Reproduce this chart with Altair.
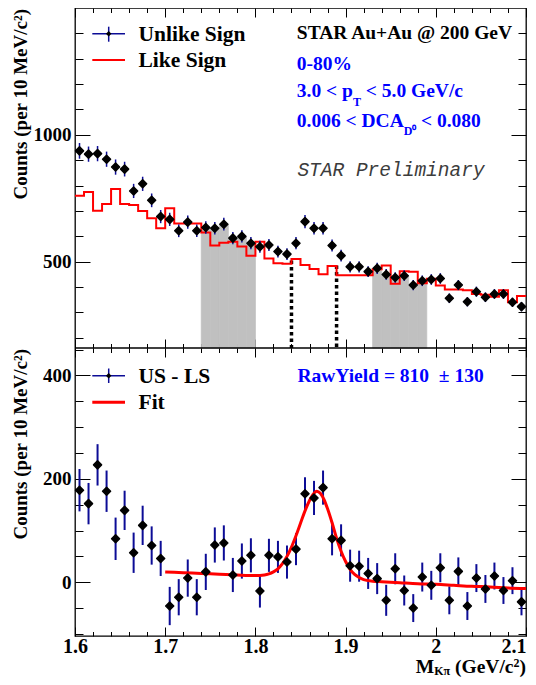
import altair as alt
import pandas as pd

# ---------------- data ----------------
mass = [1.605, 1.615, 1.625, 1.635, 1.645, 1.655, 1.665, 1.675, 1.685, 1.695,
        1.705, 1.715, 1.725, 1.735, 1.745, 1.755, 1.765, 1.775, 1.785, 1.795,
        1.805, 1.815, 1.825, 1.835, 1.845, 1.855, 1.865, 1.875, 1.885, 1.895,
        1.905, 1.915, 1.925, 1.935, 1.945, 1.955, 1.965, 1.975, 1.985, 1.995,
        2.005, 2.015, 2.025, 2.035, 2.045, 2.055, 2.065, 2.075, 2.085, 2.095]
edges = [1.60, 1.61, 1.62, 1.63, 1.64, 1.65, 1.66, 1.67, 1.68, 1.69,
         1.70, 1.71, 1.72, 1.73, 1.74, 1.75, 1.76, 1.77, 1.78, 1.79,
         1.80, 1.81, 1.82, 1.83, 1.84, 1.85, 1.86, 1.87, 1.88, 1.89,
         1.90, 1.91, 1.92, 1.93, 1.94, 1.95, 1.96, 1.97, 1.98, 1.99,
         2.00, 2.01, 2.02, 2.03, 2.04, 2.05, 2.06, 2.07, 2.08, 2.09, 2.10]
us_counts = [937, 924, 926, 904, 873, 865, 779, 807, 742, 678,
             667, 622, 656, 622, 635, 632, 648, 593, 600, 573,
             559, 566, 540, 530, 573, 658, 632, 632, 564, 524,
             480, 480, 461, 474, 450, 438, 445, 408, 425, 430,
             434, 356, 408, 342, 382, 360, 373, 373, 340, 323]
us_err = [31, 30, 30, 30, 30, 29, 28, 28, 27, 26,
          26, 25, 26, 25, 25, 25, 25, 24, 24, 24,
          24, 24, 23, 23, 24, 26, 25, 25, 24, 23,
          22, 22, 21, 22, 21, 21, 21, 20, 21, 21,
          21, 19, 20, 18, 20, 19, 19, 19, 18, 18]
ls_counts = [760, 775, 701, 728, 787, 728, 724, 700, 671, 632,
             711, 651, 651, 651, 615, 564, 575, 579, 560, 524,
             579, 513, 494, 492, 511, 487, 471, 451, 483, 447,
             447, 447, 447, 470, 485, 413, 462, 461, 415, 433,
             406, 391, 391, 388, 373, 370, 362, 388, 340, 365]
diff_counts = [178, 152, 227, 176, 84, 139, 57, 110, 71, 46,
               -46, -29, 8, -29, 20, 72, 76, 14, 41, 52,
               -17, 52, 49, 39, 64, 171, 163, 183, 84, 81,
               32, 31, 17, 7, -35, 26, -16, -50, 10, -6,
               28, -35, 21, -46, 8, -13, 12, -16, 3, -38]
diff_err = [41, 40, 40, 40, 41, 38, 39, 38, 37, 34,
            37, 35, 36, 35, 35, 34, 34, 33, 34, 33,
            32, 32, 31, 32, 31, 32, 33, 33, 32, 31,
            31, 30, 30, 30, 30, 30, 29, 27, 28, 28,
            28, 27, 27, 27, 27, 27, 26, 26, 26, 26]
fit_mass = [1.700, 1.720, 1.740, 1.760, 1.780, 1.800, 1.810, 1.815, 1.820, 1.825,
            1.830, 1.835, 1.840, 1.845, 1.850, 1.855, 1.860, 1.865, 1.868, 1.872,
            1.876, 1.880, 1.885, 1.890, 1.895, 1.900, 1.905, 1.910, 1.915, 1.920,
            1.930, 1.940, 1.960, 1.980, 2.000, 2.020, 2.040, 2.060, 2.080, 2.100]
fit_counts = [20, 18.5, 17, 15.5, 14, 13, 14, 16, 20, 26,
              36, 50, 68, 90, 114, 138, 158, 172, 176, 172,
              160, 142, 115, 85, 60, 40, 25, 15, 9, 5,
              2, 1, -1, -3, -4, -6, -8, -9, -11, -12]
sidebands = [(1.74, 1.80), (1.93, 1.99)]
signal_edges = [1.84, 1.89]
signal_tops = [505, 485]

x_major = [1.6, 1.7, 1.8, 1.9, 2.0, 2.1]
x_minor = [1.62, 1.64, 1.66, 1.68, 1.72, 1.74, 1.76, 1.78, 1.82, 1.84, 1.86, 1.88,
           1.92, 1.94, 1.96, 1.98, 2.02, 2.04, 2.06, 2.08]
yt_major = [500, 1000]
yt_minor = [200, 300, 400, 600, 700, 800, 900, 1100, 1200, 1300, 1400]
yb_major = [0, 200, 400]
yb_minor = [-100, -50, 50, 100, 150, 250, 300, 350, 450]

# ---------------- tables ----------------
df = pd.DataFrame({
    "m": mass, "lo": edges[:-1], "hi": edges[1:],
    "us": us_counts, "ls": ls_counts,
    "d": diff_counts,
})
df["us_lo"] = df["us"] - pd.Series(us_err)
df["us_hi"] = df["us"] + pd.Series(us_err)
df["d_lo"] = df["d"] - pd.Series(diff_err)
df["d_hi"] = df["d"] + pd.Series(diff_err)
in_sb = pd.Series(False, index=df.index)
for a, b in sidebands:
    in_sb |= (df["lo"] >= a - 1e-9) & (df["hi"] <= b + 1e-9)
df_sb = df[in_sb]
df_step = pd.DataFrame({"e": edges, "ls": ls_counts + [ls_counts[-1]]})
df_sig = pd.DataFrame({"m": signal_edges, "top": signal_tops})
df_fit = pd.DataFrame({"m": fit_mass, "f": fit_counts})

SERIF = "Liberation Serif"
MONO = "Liberation Mono"
BLUE = "#0000ff"
NAVY = "#0c0c96"
RED = "#ff0000"
GRAY = "#c0c0c0"

# one plot area of 451 x 628 px: upper panel 0-340, lower panel 340-628
W = 451
HT = 340
H = 628
XS = alt.Scale(domain=[1.6, 2.1], nice=False, zero=False)
YT = alt.Scale(domain=[160, 1500], nice=False, zero=False, range=[HT, 0])
YB = alt.Scale(domain=[-104, 453], nice=False, zero=False, range=[H, HT])


def axis(orient, values, size, shift=0, labels=False, fmt=None, lsize=19, lpad=4, lalign=None):
    kw = dict(orient=orient, values=values, tickSize=size, offset=-size - shift,
              domain=False, grid=False, title=None, labels=labels,
              ticks=True, tickColor="#000000", tickWidth=1,
              minExtent=0, maxExtent=200)
    if labels:
        kw.update(format=fmt, labelFont=SERIF, labelFontSize=lsize,
                  labelFontWeight="bold", labelColor="#000000",
                  labelPadding=lpad, labelFlush=False, labelOverlap=False)
        if lalign is not None:
            kw.update(labelAlign=lalign)
    return alt.Axis(**kw)


def txt(s, x, y, size, color="#000000", font=SERIF, weight="bold",
        align="left", baseline="alphabetic", angle=0, style="normal"):
    return alt.Chart(pd.DataFrame({"t": [s]})).mark_text(
        font=font, fontSize=size, fontWeight=weight, fontStyle=style,
        color=color, align=align, baseline=baseline, angle=angle
    ).encode(x=alt.value(x), y=alt.value(y), text="t:N")


one = pd.DataFrame({"k": [0]})


def hline(x1, x2, y, color, width):
    return alt.Chart(one).mark_rule(color=color, strokeWidth=width).encode(
        x=alt.value(x1), x2=alt.value(x2), y=alt.value(y))


def vline(x, y1, y2, color, width):
    return alt.Chart(one).mark_rule(color=color, strokeWidth=width).encode(
        x=alt.value(x), y=alt.value(y1), y2=alt.value(y2))


def marker(x, y, size):
    return alt.Chart(one).mark_point(shape="diamond", filled=True, size=size,
                                     color="#000000", opacity=1).encode(
        x=alt.value(x), y=alt.value(y))


YTITLE = "Counts (per 10 MeV/c\u00b2)"
UP_BOTTOM = H - HT  # distance of the panel border from the plot bottom

# ---------------- upper panel ----------------
gray = alt.Chart(df_sb).mark_rect(color=GRAY, stroke=GRAY, strokeWidth=0.8).encode(
    x=alt.X("lo:Q", scale=XS, axis=axis("bottom", x_major, 9, UP_BOTTOM)),
    x2="hi:Q",
    y=alt.Y("us:Q", scale=YT, axis=axis("left", yt_major, 15, 0, True, "d", 19, 4)),
    y2=alt.value(HT),
)
dashed = alt.Chart(df_sig).mark_rule(color="#000000", strokeWidth=3.5, strokeDash=[3.5, 3]).encode(
    x=alt.X("m:Q", scale=XS, axis=axis("bottom", x_minor, 4.5, UP_BOTTOM)),
    y=alt.Y("top:Q", scale=YT, axis=axis("left", yt_minor, 8)),
    y2=alt.value(HT),
)
ls_line = alt.Chart(df_step).mark_line(color=RED, strokeWidth=2, interpolate="step-after").encode(
    x=alt.X("e:Q", scale=XS, axis=axis("top", x_major, 9)),
    y=alt.Y("ls:Q", scale=YT, axis=axis("right", yt_major, 15)),
)
us_bars = alt.Chart(df).mark_rule(color=NAVY, strokeWidth=1.5).encode(
    x=alt.X("m:Q", scale=XS, axis=axis("top", x_minor, 4.5)),
    y=alt.Y("us_lo:Q", scale=YT, axis=axis("right", yt_minor, 8)),
    y2="us_hi:Q",
)
us_pts = alt.Chart(df).mark_point(shape="diamond", filled=True, size=64, color="#000000",
                                  stroke="#000000", strokeWidth=1.5, strokeJoin="round",
                                  opacity=1).encode(
    x=alt.X("m:Q", scale=XS, axis=None),
    y=alt.Y("us:Q", scale=YT, axis=None),
)

top_texts = [
    hline(17.3, 50, 25.8, NAVY, 1.5),
    vline(33.7, 18.7, 33.7, NAVY, 1.5),
    marker(33.7, 25.8, 30),
    hline(17.3, 50, 52, RED, 2),
    txt("Unlike Sign", 63.5, 32.7, 21.5),
    txt("Like Sign", 63.5, 58.7, 21.5),
    txt("STAR Au+Au @ 200 GeV", 221.8, 31.3, 19.5),
    txt("0-80%", 221.8, 62, 19.5, BLUE),
    txt("3.0 < p", 221.8, 89.3, 19.5, BLUE),
    txt("T", 277.9, 98, 12, BLUE),
    txt("< 5.0 GeV/c", 290.8, 89.3, 19.5, BLUE),
    txt("0.006 < DCA", 221.8, 119.3, 19.5, BLUE),
    txt("D\u2070", 328.8, 126.5, 12, BLUE),
    txt("< 0.080", 346, 119.3, 19.5, BLUE),
    txt("STAR Preliminary", 222.4, 167.7, 19.5, "#3c3c3c", MONO, "normal", style="italic"),
    txt(YTITLE, -63, 1, 19, align="right", baseline="top", angle=270),
]

# ---------------- lower panel ----------------
x_label_align = {"condition": {"test": "datum.value > 2.05", "value": "right"}, "value": "center"}
d_bars = alt.Chart(df).mark_rule(color=NAVY, strokeWidth=2).encode(
    x=alt.X("m:Q", scale=XS, axis=axis("bottom", x_major, 9, 0, True, "~g", 20, 0.5, x_label_align)),
    y=alt.Y("d_lo:Q", scale=YB, axis=axis("left", yb_major, 15, 0, True, "d", 19, 4)),
    y2="d_hi:Q",
)
fit = alt.Chart(df_fit).mark_line(color=RED, strokeWidth=3, interpolate="monotone").encode(
    x=alt.X("m:Q", scale=XS, axis=axis("bottom", x_minor, 4.5)),
    y=alt.Y("f:Q", scale=YB, axis=axis("left", yb_minor, 8)),
)
d_pts = alt.Chart(df).mark_point(shape="diamond", filled=True, size=64, color="#000000",
                                 stroke="#000000", strokeWidth=1.5, strokeJoin="round",
                                 opacity=1).encode(
    x=alt.X("m:Q", scale=XS, axis=axis("top", x_major, 9, HT)),
    y=alt.Y("d:Q", scale=YB, axis=axis("right", yb_major, 15)),
)
d_ghost = alt.Chart(df).mark_rule(opacity=0).encode(
    x=alt.X("m:Q", scale=XS, axis=axis("top", x_minor, 4.5, HT)),
    y=alt.Y("d_lo:Q", scale=YB, axis=axis("right", yb_minor, 8)),
    y2="d_hi:Q",
)

B = HT
bot_texts = [
    hline(0, W, HT, "#000000", 1.3),
    hline(17.3, 50, B + 27.7, NAVY, 1.5),
    vline(33.7, B + 20.5, B + 35, NAVY, 1.5),
    marker(33.7, B + 27.7, 30),
    hline(17.3, 50, B + 54.3, RED, 3),
    txt("US - LS", 63.5, B + 34.7, 21.5),
    txt("Fit", 63.5, B + 61, 21.5),
    txt("RawYield = 810 \u00a0\u00b1 130", 222.4, B + 33.7, 19.5, BLUE),
    txt(YTITLE, -63, B + 1, 19, align="right", baseline="top", angle=270),
    txt("M", 359.2, 664.5, 19.5, align="right"),
    txt("K\u03c0", 375.1, 666.5, 12, align="right"),
    txt("(GeV/c", 438.5, 664.5, 19.5, align="right"),
    txt("2", 444.5, 659, 12, align="right"),
    txt(")", 451, 664.5, 19.5, align="right"),
]

chart = alt.layer(
    gray, dashed, ls_line, us_bars, us_pts, *top_texts,
    d_bars, fit, d_pts, d_ghost, *bot_texts,
).resolve_scale(x="independent", y="independent").resolve_axis(
    x="independent", y="independent"
).properties(
    width=W, height=H,
    autosize=alt.AutoSizeParams(type="none"),
    padding={"left": 67, "top": 0, "right": 2, "bottom": 41},
    background="white",
).configure_view(stroke="#000000", strokeWidth=1.3)

chart.save("out.html", embed_options={"renderer": "svg", "actions": False})
